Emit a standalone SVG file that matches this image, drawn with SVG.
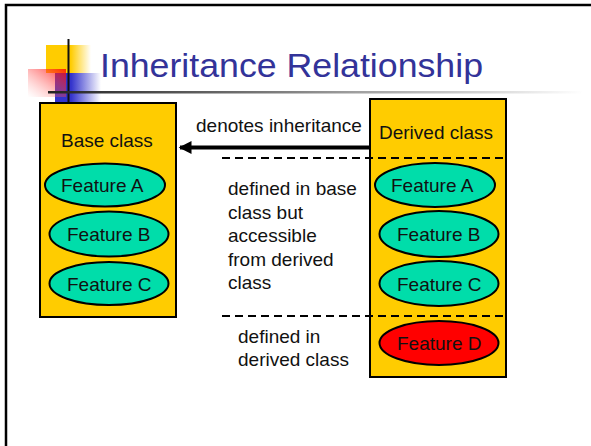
<svg xmlns="http://www.w3.org/2000/svg" width="591" height="446" viewBox="0 0 591 446">
  <style>
    .lbl { font-family: "Liberation Sans", Arial, sans-serif; font-size: 19px; fill: #111; }
    .cls { fill: #FFCC00; stroke: #000; stroke-width: 2; }
    .feat { fill: #00DDAA; stroke: #000; stroke-width: 2; }
    .featD { fill: #FF0000; stroke: #000; stroke-width: 2; }
    .dash { stroke: #000; stroke-width: 2; stroke-dasharray: 8 5; fill: none; }
  </style>
  <defs>
    <linearGradient id="gYellow" x1="0" y1="0" x2="1" y2="0">
      <stop offset="0" stop-color="#FFCC00"/>
      <stop offset="0.55" stop-color="#FFCC00"/>
      <stop offset="1" stop-color="#FFCC00" stop-opacity="0"/>
    </linearGradient>
    <linearGradient id="gBlue" x1="0" y1="0" x2="1" y2="0">
      <stop offset="0" stop-color="#3333CC"/>
      <stop offset="0.35" stop-color="#3333CC"/>
      <stop offset="1" stop-color="#3333CC" stop-opacity="0"/>
    </linearGradient>
    <linearGradient id="gRed" x1="1" y1="0" x2="0" y2="1">
      <stop offset="0" stop-color="#FF0000"/>
      <stop offset="1" stop-color="#FF8888" stop-opacity="0"/>
    </linearGradient>
    <linearGradient id="gRule" x1="0" y1="0" x2="1" y2="0">
      <stop offset="0" stop-color="#222"/>
      <stop offset="0.4" stop-color="#777"/>
      <stop offset="1" stop-color="#FFF"/>
    </linearGradient>
    <marker id="head" viewBox="0 0 10 10" refX="9" refY="5" markerWidth="4.5" markerHeight="3.2" orient="auto" markerUnits="strokeWidth">
      <path d="M0,0 L10,5 L0,10 Z" fill="#000"/>
    </marker>
  </defs>

  <rect width="591" height="446" fill="#FFF"/>
  <!-- slide frame -->
  <path d="M6,446 V5 H591" fill="none" stroke="#000" stroke-width="2.5"/>

  <!-- title decoration -->
  <g id="logo">
    <rect x="46" y="45" width="45" height="28" fill="url(#gYellow)"/>
    <rect x="55" y="73" width="46" height="29" fill="url(#gBlue)"/>
    <rect x="28" y="69" width="38" height="28" fill="url(#gRed)" opacity="0.8"/>
    <line x1="68.5" y1="39" x2="68.5" y2="103" stroke="#111" stroke-width="2"/>
    <rect x="48" y="91" width="535" height="2.5" fill="url(#gRule)"/>
  </g>
  <text x="100" y="77" font-family="Liberation Sans, Arial, sans-serif" font-size="33" fill="#333399" textLength="383" lengthAdjust="spacingAndGlyphs">Inheritance Relationship</text>

  <!-- base class -->
  <g id="base">
    <rect class="cls" x="40" y="103" width="136" height="214"/>
    <text class="lbl" x="61" y="147">Base class</text>
    <ellipse class="feat" cx="105" cy="185" rx="60" ry="21.5"/>
    <text class="lbl" x="61" y="192">Feature A</text>
    <ellipse class="feat" cx="109" cy="234" rx="59.5" ry="22.5"/>
    <text class="lbl" x="67" y="241">Feature B</text>
    <ellipse class="feat" cx="109" cy="283.5" rx="59.5" ry="21.5"/>
    <text class="lbl" x="67" y="291">Feature C</text>
  </g>

  <!-- derived class -->
  <g id="derived">
    <rect class="cls" x="370" y="99" width="136" height="278"/>
    <text class="lbl" x="379" y="139">Derived class</text>
    <ellipse class="feat" cx="435" cy="185" rx="60" ry="22"/>
    <text class="lbl" x="391" y="192">Feature A</text>
    <ellipse class="feat" cx="439" cy="234" rx="59.5" ry="23"/>
    <text class="lbl" x="397" y="241">Feature B</text>
    <ellipse class="feat" cx="439" cy="283.5" rx="59.5" ry="22.5"/>
    <text class="lbl" x="397" y="291">Feature C</text>
    <ellipse class="featD" cx="439" cy="343" rx="59.5" ry="22"/>
    <text class="lbl" x="397" y="350">Feature D</text>
  </g>

  <!-- connectors and separators -->
  <g id="connectors">
    <line x1="370" y1="147.5" x2="180" y2="147.5" stroke="#000" stroke-width="4" marker-end="url(#head)"/>
    <line class="dash" x1="222" y1="158" x2="506" y2="158"/>
    <line class="dash" x1="222" y1="316" x2="506" y2="316"/>
  </g>

  <g id="notes">
    <text class="lbl" x="196" y="132">denotes inheritance</text>
    <text class="lbl" x="228" y="195">defined in base</text>
    <text class="lbl" x="228" y="218.5">class but</text>
    <text class="lbl" x="228" y="242">accessible</text>
    <text class="lbl" x="228" y="265.5">from derived</text>
    <text class="lbl" x="228" y="289">class</text>
    <text class="lbl" x="238" y="343">defined in</text>
    <text class="lbl" x="238" y="366">derived class</text>
  </g>
</svg>
